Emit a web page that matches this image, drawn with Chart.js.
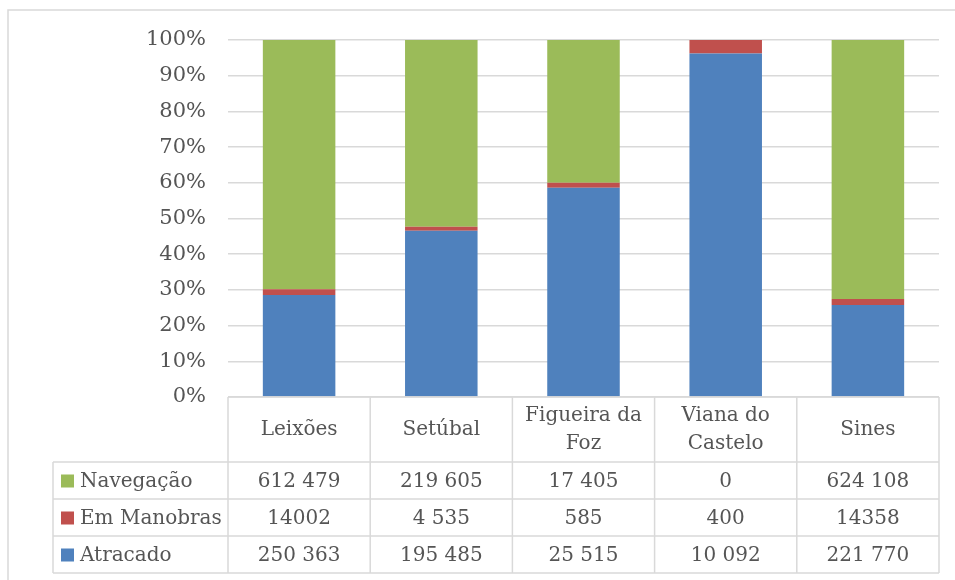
<!DOCTYPE html>
<html>
<head>
<meta charset="utf-8">
<script src="https://cdn.jsdelivr.net/npm/chart.js@4"></script>
<style>
  html, body { margin: 0; padding: 0; background: #fff; }
  #wrap { width: 955px; height: 580px; }
</style>
</head>
<body>
<div id="wrap"><canvas id="myChart" width="955" height="580"></canvas></div>
<script>
// Portos (cabeçalho da tabela, com quebra de linha)
const portos = [['Leixões'], ['Setúbal'], ['Figueira da', 'Foz'], ['Viana do', 'Castelo'], ['Sines']];

// Valores tal como aparecem na tabela
const navegacaoTxt = ['612 479', '219 605', '17 405', '0', '624 108'];
const manobrasTxt = ['14002', '4 535', '585', '400', '14358'];
const atracadoTxt = ['250 363', '195 485', '25 515', '10 092', '221 770'];

const yTicks = [0, 10, 20, 30, 40, 50, 60, 70, 80, 90, 100];

const verde = '#9BBB59';
const vermelho = '#C0504D';
const azul = '#4F81BD';
const cinza = '#555555';
const linha = '#d9d9d9';
const fonte = '"DejaVu Serif", serif';

const toNum = s => Number(s.replace(/\s/g, ''));
const navegacao = navegacaoTxt.map(toNum);
const manobras = manobrasTxt.map(toNum);
const atracado = atracadoTxt.map(toNum);

// percentagens para as barras 100% empilhadas
const totais = navegacao.map((v, i) => v + manobras[i] + atracado[i]);
const pct = arr => arr.map((v, i) => v / totais[i] * 100);

// linhas da tabela (de cima para baixo)
const linhas = [
    { nome: 'Navegação', cor: verde, txt: navegacaoTxt },
    { nome: 'Em Manobras', cor: vermelho, txt: manobrasTxt },
    { nome: 'Atracado', cor: azul, txt: atracadoTxt }
];

// moldura exterior
const moldura = {
    id: 'moldura',
    beforeDraw(chart) {
        const c = chart.ctx;
        c.save();
        c.strokeStyle = linha;
        c.lineWidth = 1.5;
        c.strokeRect(8, 10, 1200, 1200);
        c.restore();
    }
};

// tabela de dados por baixo do gráfico
const tabela = {
    id: 'tabela',
    afterDraw(chart) {
        const c = chart.ctx;
        const area = chart.chartArea;
        const x = chart.scales.x;
        const n = portos.length;
        const larg = (area.right - area.left) / n;
        const topo = area.bottom;
        const hCab = 65;
        const hLinha = 37;
        const esq = 53;
        const fundo = topo + hCab + hLinha * linhas.length;

        c.save();
        c.strokeStyle = linha;
        c.lineWidth = 1.5;
        c.beginPath();
        // linhas horizontais
        c.moveTo(area.left, topo); c.lineTo(area.right, topo);
        for (let r = 0; r <= linhas.length; r++) {
            const y = topo + hCab + r * hLinha;
            c.moveTo(esq, y); c.lineTo(area.right, y);
        }
        // linhas verticais
        c.moveTo(esq, topo + hCab); c.lineTo(esq, fundo);
        for (let k = 0; k <= n; k++) {
            const xx = area.left + k * larg;
            c.moveTo(xx, topo); c.lineTo(xx, fundo);
        }
        c.stroke();

        c.fillStyle = cinza;
        c.font = '20px ' + fonte;
        c.textAlign = 'center';
        c.textBaseline = 'middle';

        // cabeçalho
        portos.forEach((p, i) => {
            const cx = x.getPixelForValue(i);
            const meio = topo + hCab / 2;
            p.forEach((t, j) => {
                c.fillText(t, cx, meio + (j - (p.length - 1) / 2) * 28);
            });
        });

        // linhas de valores
        linhas.forEach((l, r) => {
            const cy = topo + hCab + r * hLinha + hLinha / 2;
            c.fillStyle = l.cor;
            c.fillRect(61, cy - 6, 13, 13);
            c.fillStyle = cinza;
            c.textAlign = 'left';
            c.fillText(l.nome, 80, cy + 1);
            c.textAlign = 'center';
            l.txt.forEach((t, i) => {
                c.fillText(t, x.getPixelForValue(i), cy + 1);
            });
        });
        c.restore();
    }
};

const ctx = document.getElementById('myChart');

new Chart(ctx, {
    type: 'bar',
    data: {
        labels: portos.map(p => p.join(' ')),
        datasets: [
            { label: 'Atracado', data: pct(atracado), backgroundColor: azul },
            { label: 'Em Manobras', data: pct(manobras), backgroundColor: vermelho },
            { label: 'Navegação', data: pct(navegacao), backgroundColor: verde }
        ]
    },
    options: {
        responsive: false,
        animation: false,
        layout: { padding: { left: 0, right: 16, top: 40, bottom: 183 } },
        datasets: {
            bar: { categoryPercentage: 1, barPercentage: 0.51, borderWidth: 0 }
        },
        plugins: {
            legend: { display: false },
            tooltip: { enabled: false }
        },
        scales: {
            x: {
                stacked: true,
                display: false
            },
            y: {
                stacked: true,
                min: 0,
                max: 100,
                afterFit(scale) { scale.width = 228; },
                afterBuildTicks(scale) { scale.ticks = yTicks.map(v => ({ value: v })); },
                border: { display: false },
                grid: { color: linha, lineWidth: 1.5, drawTicks: false },
                ticks: {
                    padding: 22,
                    color: cinza,
                    font: { family: fonte, size: 21 },
                    callback: v => v + '%'
                }
            }
        }
    },
    plugins: [moldura, tabela]
});
</script>
</body>
</html>
